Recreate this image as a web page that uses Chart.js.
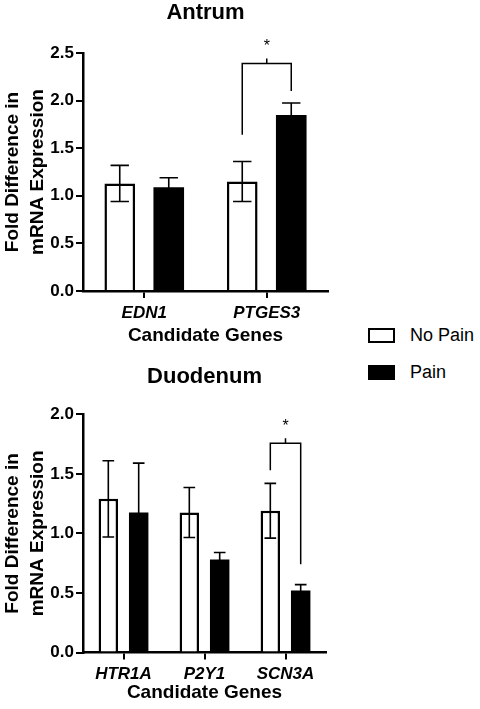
<!DOCTYPE html>
<html lang="en">
<head>
    <meta charset="UTF-8">
    <meta name="viewport" content="width=device-width, initial-scale=1.0">
    <title>Fold Difference in mRNA Expression</title>
    <script src="https://cdn.jsdelivr.net/npm/chart.js"></script>
    <style>
        body {
            margin: 0;
            background-color: #fff;
            font-family: "Liberation Sans", Arial, sans-serif;
        }
        .wrap {
            position: relative;
            width: 480px;
            height: 709px;
        }
        .panel {
            position: absolute;
            left: 0;
            width: 340px;
        }
        #antrumPanel { top: 0; height: 350px; }
        #duodenumPanel { top: 356px; height: 353px; }
        .legend {
            position: absolute;
            left: 368px;
            top: 322px;
        }
        .legend-row {
            display: flex;
            align-items: center;
            height: 26px;
            margin-bottom: 11.5px;
        }
        .swatch {
            width: 27px;
            height: 15px;
            box-sizing: border-box;
            border: 2.5px solid #000;
            margin-right: 15px;
        }
        .legend-row span {
            font-size: 18px;
            color: #000;
        }
    </style>
</head>
<body>
<div class="wrap">
    <div class="panel" id="antrumPanel"><canvas id="antrumChart"></canvas></div>
    <div class="panel" id="duodenumPanel"><canvas id="duodenumChart"></canvas></div>
    <div class="legend" id="legend"></div>
</div>

<script>
    // series
    const seriesNames = ['No Pain', 'Pain'];
    const seriesFill = ['#ffffff', '#000000'];

    // Antrum
    const antrumGenes = ['EDN1', 'PTGES3'];
    const antrumNoPain = [1.13, 1.15];
    const antrumNoPainErr = [0.19, 0.21];
    const antrumPain = [1.09, 1.85];
    const antrumPainErr = [0.10, 0.125];
    const antrumTicks = [0, 0.5, 1.0, 1.5, 2.0, 2.5];
    const antrumSig = { gene: 'PTGES3', top: 2.39, legs: [1.64, 2.10], label: '*' };

    // Duodenum
    const duodenumGenes = ['HTR1A', 'P2Y1', 'SCN3A'];
    const duodenumNoPain = [1.29, 1.175, 1.19];
    const duodenumNoPainErr = [0.32, 0.21, 0.23];
    const duodenumPain = [1.175, 0.78, 0.52];
    const duodenumPainErr = [0.415, 0.06, 0.05];
    const duodenumTicks = [0, 0.5, 1.0, 1.5, 2.0];
    const duodenumSig = { gene: 'SCN3A', top: 1.756, legs: [1.53, 0.74], label: '*' };

    const fontFamily = '"Liberation Sans", Arial, sans-serif';

    // mean +/- error whiskers
    const errorBarPlugin = {
        id: 'errorBars',
        afterDatasetsDraw(chart) {
            const ctx = chart.ctx;
            const y = chart.scales.y;
            chart.data.datasets.forEach((ds, di) => {
                chart.getDatasetMeta(di).data.forEach((bar, i) => {
                    const v = ds.data[i];
                    const e = ds.errors[i];
                    const half = bar.width * 0.3;
                    const yTop = y.getPixelForValue(v + e);
                    const yBot = y.getPixelForValue(v - e);
                    ctx.save();
                    ctx.strokeStyle = '#000';
                    ctx.lineWidth = 1.6;
                    ctx.beginPath();
                    ctx.moveTo(bar.x, yBot);
                    ctx.lineTo(bar.x, yTop);
                    ctx.moveTo(bar.x - half, yTop);
                    ctx.lineTo(bar.x + half, yTop);
                    ctx.moveTo(bar.x - half, yBot);
                    ctx.lineTo(bar.x + half, yBot);
                    ctx.stroke();
                    ctx.restore();
                });
            });
        }
    };

    // significance bracket between the two bars of one gene
    function makeBracket(sig) {
        return {
            id: 'bracket',
            afterDatasetsDraw(chart) {
                const ctx = chart.ctx;
                const y = chart.scales.y;
                const i = chart.data.labels.indexOf(sig.gene);
                const xs = [0, 1].map(d => chart.getDatasetMeta(d).data[i].x);
                const yt = y.getPixelForValue(sig.top);
                const xm = (xs[0] + xs[1]) / 2;
                ctx.save();
                ctx.strokeStyle = '#000';
                ctx.lineWidth = 1.5;
                ctx.beginPath();
                ctx.moveTo(xs[0], y.getPixelForValue(sig.legs[0]));
                ctx.lineTo(xs[0], yt);
                ctx.lineTo(xs[1], yt);
                ctx.lineTo(xs[1], y.getPixelForValue(sig.legs[1]));
                ctx.moveTo(xm, yt);
                ctx.lineTo(xm, yt - 5);
                ctx.stroke();
                ctx.fillStyle = '#000';
                ctx.font = '16px ' + fontFamily;
                ctx.textAlign = 'center';
                ctx.textBaseline = 'alphabetic';
                ctx.fillText(sig.label, xm, yt - 12);
                ctx.restore();
            }
        };
    }

    function makeChart(canvasId, cfg) {
        const ctx = document.getElementById(canvasId).getContext('2d');
        return new Chart(ctx, {
            type: 'bar',
            data: {
                labels: cfg.labels,
                datasets: cfg.series.map((values, k) => ({
                    label: seriesNames[k],
                    data: values,
                    errors: cfg.errors[k],
                    backgroundColor: seriesFill[k],
                    borderColor: '#000',
                    borderWidth: k === 0 ? 2.5 : 0,
                    categoryPercentage: cfg.catPct,
                    barPercentage: cfg.barPct
                }))
            },
            options: {
                responsive: true,
                maintainAspectRatio: false,
                animation: false,
                layout: {
                    padding: { left: 0, right: cfg.padRight, top: 0, bottom: 0 }
                },
                plugins: {
                    legend: { display: false },
                    tooltip: { enabled: false },
                    title: {
                        display: true,
                        text: cfg.title,
                        fullSize: false,
                        color: '#000',
                        font: { size: 22, weight: 'bold', family: fontFamily },
                        padding: { top: cfg.titleTop, bottom: cfg.titleBottom }
                    }
                },
                scales: {
                    x: {
                        offset: true,
                        grid: {
                            drawOnChartArea: false,
                            offset: false,
                            tickLength: 7,
                            color: '#000',
                            lineWidth: 2
                        },
                        border: { color: '#000', width: 2.5 },
                        ticks: {
                            color: '#000',
                            padding: 5,
                            maxRotation: 0,
                            autoSkip: false,
                            font: { size: 17, weight: 'bold', style: 'italic', family: fontFamily }
                        },
                        title: {
                            display: true,
                            text: 'Candidate Genes',
                            color: '#000',
                            font: { size: 19, weight: 'bold', family: fontFamily },
                            padding: { top: 0, bottom: cfg.xTitleBottom }
                        },
                        afterFit(scale) { scale.height = cfg.xHeight; }
                    },
                    y: {
                        min: 0,
                        max: cfg.ticks[cfg.ticks.length - 1],
                        afterBuildTicks(scale) {
                            scale.ticks = cfg.ticks.map(v => ({ value: v }));
                        },
                        grid: {
                            drawOnChartArea: false,
                            tickLength: 7,
                            color: '#000',
                            lineWidth: 2
                        },
                        border: { color: '#000', width: 2.5 },
                        ticks: {
                            color: '#000',
                            padding: 2,
                            font: { size: 17, weight: 'bold', family: fontFamily },
                            callback: v => Number(v).toFixed(1)
                        },
                        title: {
                            display: true,
                            text: ['Fold Difference in', 'mRNA Expression'],
                            color: '#000',
                            font: { size: 19, weight: 'bold', family: fontFamily, lineHeight: 1.3 },
                            padding: { top: 0.7, bottom: 0 }
                        },
                        afterFit(scale) { scale.width = 83; }
                    }
                }
            },
            plugins: [errorBarPlugin, makeBracket(cfg.sig)]
        });
    }

    makeChart('antrumChart', {
        title: 'Antrum',
        labels: antrumGenes,
        series: [antrumNoPain, antrumPain],
        errors: [antrumNoPainErr, antrumPainErr],
        ticks: antrumTicks,
        sig: antrumSig,
        catPct: 0.8,
        barPct: 0.625,
        padRight: 12,
        titleTop: 0,
        titleBottom: 26.6,
        xHeight: 59,
        xTitleBottom: 3
    });

    makeChart('duodenumChart', {
        title: 'Duodenum',
        labels: duodenumGenes,
        series: [duodenumNoPain, duodenumPain],
        errors: [duodenumNoPainErr, duodenumPainErr],
        ticks: duodenumTicks,
        sig: duodenumSig,
        catPct: 0.75,
        barPct: 0.64,
        padRight: 14,
        titleTop: 7.3,
        titleBottom: 24.6,
        xHeight: 56.5,
        xTitleBottom: 5
    });

    // legend
    const legend = document.getElementById('legend');
    seriesNames.forEach((name, k) => {
        const row = document.createElement('div');
        row.className = 'legend-row';
        const sw = document.createElement('div');
        sw.className = 'swatch';
        sw.style.background = seriesFill[k];
        const label = document.createElement('span');
        label.textContent = name;
        row.appendChild(sw);
        row.appendChild(label);
        legend.appendChild(row);
    });
</script>
</body>
</html>
